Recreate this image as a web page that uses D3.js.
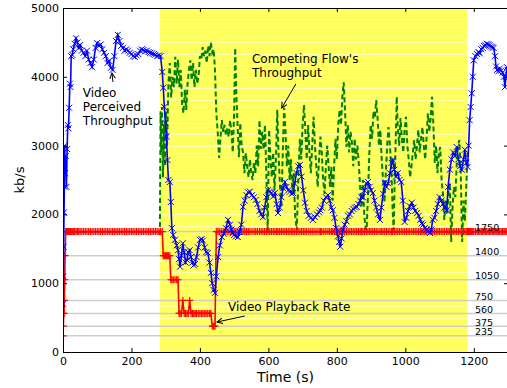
<!DOCTYPE html>
<html>
<head>
<meta charset="utf-8">
<script src="https://cdn.jsdelivr.net/npm/d3@7"></script>
<style>
  body { margin: 0; background: #fff; }
  svg { display: block; font-family: "DejaVu Sans", sans-serif; }
</style>
</head>
<body>
<svg></svg>
<script>
// sample instants of the player log (s)
const sampleTimes = [
  0, 1, 2, 3, 4, 5, 6, 8, 10, 12,
  14, 16, 18, 20, 22, 24, 27, 30, 34, 38,
  42, 46, 50, 55, 60, 65, 70, 75, 80, 85,
  90, 95, 100, 105, 110, 115, 120, 125, 130, 135,
  140, 145, 150, 155, 160, 165, 170, 175, 180, 185,
  190, 195, 200, 205, 210, 215, 220, 225, 230, 235,
  240, 245, 250, 255, 260, 265, 270, 275, 280, 285,
  290, 293, 296, 299, 302, 305, 308, 312, 315, 318,
  322, 327, 332, 336, 339, 342, 346, 350, 354, 358,
  362, 366, 370, 374, 378, 382, 386, 390, 395, 400,
  405, 409, 414, 418, 423, 428, 432, 436, 440, 444,
  448, 453, 458, 464, 470, 476, 482, 488, 492, 496,
  500, 505, 511, 516, 521, 526, 531, 536, 541, 546,
  552, 558, 563, 568, 574, 579, 584, 589, 594, 599,
  604, 609, 614, 619, 624, 628, 633, 638, 643, 648,
  653, 658, 663, 668, 672, 677, 682, 687, 692, 697,
  702, 707, 712, 718, 724, 730, 736, 742, 748, 752,
  756, 762, 768, 774, 779, 784, 788, 793, 798, 803,
  807, 810, 814, 818, 823, 828, 833, 838, 843, 848,
  853, 858, 863, 868, 872, 876, 881, 886, 891, 896,
  900, 905, 910, 915, 920, 926, 930, 935, 940, 945,
  950, 955, 960, 963, 968, 973, 978, 983, 988, 993,
  998, 1003, 1008, 1013, 1019, 1024, 1029, 1034, 1039, 1044,
  1048, 1052, 1057, 1062, 1067, 1072, 1076, 1080, 1085, 1090,
  1095, 1100, 1105, 1110, 1115, 1121, 1125, 1130, 1135, 1140,
  1145, 1150, 1155, 1160, 1165, 1170, 1174, 1178, 1182, 1185,
  1188, 1191, 1194, 1197, 1200, 1205, 1210, 1214, 1218, 1222,
  1226, 1230, 1234, 1238, 1242, 1246, 1250, 1254, 1258, 1262,
  1265, 1268, 1272, 1276, 1280, 1284, 1288, 1291, 1294, 1297,
  1300
];

// throughput seen by the video player (kb/s)
const perceivedKbps = [
  700, 1100, 1530, 2030, 2400, 3000, 2600, 2850, 2400, 2950,
  3300, 3250, 3550, 3900, 3850, 4300, 4320, 4400, 4480, 4560,
  4500, 4420, 4460, 4380, 4350, 4300, 4380, 4250, 4200, 4140,
  4250, 4420, 4490, 4450, 4470, 4400, 4350, 4300, 4200, 4230,
  4130, 4100, 4300, 4520, 4610, 4520, 4450, 4420, 4380, 4400,
  4380, 4350, 4330, 4300, 4290, 4310, 4330, 4380, 4400, 4390,
  4370, 4380, 4360, 4350, 4340, 4330, 4320, 4300, 4310, 4300,
  4070, 3840, 3560, 3330, 3130, 2790, 2500, 2470, 2180, 1800,
  1700, 1630, 1550, 1480, 1350, 1240, 1400, 1580, 1450, 1300,
  1340, 1450, 1480, 1380, 1300, 1260, 1280, 1380, 1520, 1630,
  1640, 1620, 1520, 1450, 1440, 1300, 1150, 1000, 900, 860,
  1100, 1380, 1550, 1670, 1720, 1800, 1920, 1850, 1780, 1730,
  1700, 1680, 1670, 1750, 1850, 2110, 2200, 2280, 2320, 2330,
  2280, 2250, 2210, 2150, 2050, 2000, 1960, 2100, 2250, 2350,
  2330, 2310, 2260, 2310, 2150, 2020, 2100, 2250, 2380, 2470,
  2400, 2350, 2330, 2300, 2310, 2450, 2600, 2700, 2720, 2550,
  2350, 2170, 2050, 1980, 1950, 1920, 1960, 2000, 2030, 2060,
  2100, 2200, 2250, 2280, 2200, 2100, 2060, 1950, 1800, 1680,
  1600, 1530, 1650, 1780, 1850, 1900, 1980, 2000, 2050, 2080,
  2100, 2110, 2150, 2200, 2250, 2250, 2350, 2450, 2470, 2400,
  2350, 2310, 2200, 2100, 2000, 1920, 2100, 2300, 2460, 2400,
  2450, 2600, 2750, 2790, 2650, 2550, 2600, 2500, 2470, 2200,
  1890, 1950, 2050, 2120, 2170, 2100, 2050, 2020, 1980, 1920,
  1870, 1850, 1800, 1780, 1760, 1730, 1780, 1920, 1950, 2050,
  2150, 2250, 2200, 2150, 2100, 2060, 2400, 2650, 2800, 2900,
  2850, 2980, 2800, 2700, 2650, 2800, 2940, 2750, 2690, 3000,
  3370, 3560, 3760, 4000, 4240, 4300, 4330, 4360, 4340, 4400,
  4420, 4450, 4460, 4480, 4470, 4460, 4440, 4430, 4420, 4300,
  4150, 4100, 4080, 4120, 4090, 4060, 4000, 3850, 4000, 4140,
  4100
];

// encoding rate being played (kb/s)
const playbackKbps = [
  235, 375, 560, 560, 750, 1050, 1400, 1750, 1750, 1750,
  1750, 1750, 1750, 1750, 1750, 1750, 1750, 1750, 1750, 1750,
  1750, 1750, 1750, 1750, 1750, 1750, 1750, 1750, 1750, 1750,
  1750, 1750, 1750, 1750, 1750, 1750, 1750, 1750, 1750, 1750,
  1750, 1750, 1750, 1750, 1750, 1750, 1750, 1750, 1750, 1750,
  1750, 1750, 1750, 1750, 1750, 1750, 1750, 1750, 1750, 1750,
  1750, 1750, 1750, 1750, 1750, 1750, 1750, 1750, 1750, 1750,
  1750, 1400, 1400, 1400, 1400, 1400, 1400, 1400, 1050, 1050,
  1050, 1050, 1050, 1050, 560, 560, 560, 750, 560, 560,
  560, 560, 750, 560, 560, 560, 560, 560, 560, 560,
  560, 560, 560, 560, 560, 560, 560, 375, 375, 375,
  1750, 1750, 1750, 1750, 1750, 1750, 1750, 1750, 1750, 1750,
  1750, 1750, 1750, 1750, 1750, 1750, 1750, 1750, 1750, 1750,
  1750, 1750, 1750, 1750, 1750, 1750, 1750, 1750, 1750, 1750,
  1750, 1750, 1750, 1750, 1750, 1750, 1750, 1750, 1750, 1750,
  1750, 1750, 1750, 1750, 1750, 1750, 1750, 1750, 1750, 1750,
  1750, 1750, 1750, 1750, 1750, 1750, 1750, 1750, 1750, 1750,
  1750, 1750, 1750, 1750, 1750, 1750, 1750, 1750, 1750, 1750,
  1750, 1750, 1750, 1750, 1750, 1750, 1750, 1750, 1750, 1750,
  1750, 1750, 1750, 1750, 1750, 1750, 1750, 1750, 1750, 1750,
  1750, 1750, 1750, 1750, 1750, 1750, 1750, 1750, 1750, 1750,
  1750, 1750, 1750, 1750, 1750, 1750, 1750, 1750, 1750, 1750,
  1750, 1750, 1750, 1750, 1750, 1750, 1750, 1750, 1750, 1750,
  1750, 1750, 1750, 1750, 1750, 1750, 1750, 1750, 1750, 1750,
  1750, 1750, 1750, 1750, 1750, 1750, 1750, 1750, 1750, 1750,
  1750, 1750, 1750, 1750, 1750, 1750, 1750, 1750, 1750, 1750,
  1750, 1750, 1750, 1750, 1750, 1750, 1750, 1750, 1750, 1750,
  1750, 1750, 1750, 1750, 1750, 1750, 1750, 1750, 1750, 1750,
  1750, 1750, 1750, 1750, 1750, 1750, 1750, 1750, 1750, 1750,
  1750
];

// competing TCP flow, only active while it runs
const flowTimes = [
  283, 285, 287, 289, 292, 295, 298, 301, 304, 308,
  312, 316, 320, 324, 328, 332, 336, 340, 344, 348,
  352, 356, 360, 364, 368, 372, 376, 380, 384, 388,
  392, 396, 400, 404, 408, 412, 416, 420, 424, 428,
  432, 436, 440, 444, 448, 452, 456, 460, 464, 468,
  472, 476, 480, 484, 488, 492, 496, 500, 503, 506,
  510, 514, 518, 522, 526, 530, 534, 538, 542, 546,
  550, 554, 558, 562, 566, 570, 574, 578, 582, 586,
  590, 594, 598, 602, 606, 610, 614, 618, 622, 626,
  630, 634, 638, 642, 646, 650, 654, 658, 662, 666,
  670, 674, 678, 683, 688, 692, 696, 700, 704, 708,
  712, 716, 720, 724, 728, 732, 736, 740, 744, 748,
  752, 756, 760, 764, 768, 772, 776, 780, 784, 788,
  792, 796, 800, 804, 808, 812, 816, 820, 824, 828,
  832, 836, 840, 844, 848, 852, 856, 860, 864, 868,
  872, 876, 880, 884, 887, 891, 895, 899, 903, 907,
  911, 915, 919, 923, 927, 931, 935, 939, 943, 947,
  951, 955, 959, 963, 966, 969, 972, 975, 978, 982,
  986, 990, 994, 998, 1002, 1006, 1010, 1014, 1018, 1022,
  1026, 1030, 1034, 1038, 1042, 1046, 1050, 1054, 1058, 1062,
  1066, 1070, 1074, 1078, 1082, 1086, 1090, 1094, 1098, 1102,
  1106, 1110, 1114, 1118, 1122, 1126, 1130, 1134, 1138, 1142,
  1146, 1150, 1154, 1158, 1162, 1166, 1170, 1174, 1178, 1182
];

const flowKbps = [
  1700, 3500, 2900, 3560, 2540, 3300, 2700, 3500, 3000, 3900,
  4200, 3700, 4000, 3850, 4290, 3900, 4250, 3850, 4100, 3600,
  3470, 3810, 3520, 3900, 4100, 4240, 3950, 4200, 3850, 4100,
  3900, 4000, 4300, 4250, 4430, 4300, 4380, 4200, 4450, 4300,
  4500, 4350, 4400, 4100, 3470, 3200, 2820, 3100, 3370, 3200,
  3300, 3150, 3250, 3130, 3370, 3200, 2900, 3500, 4420, 3800,
  3300, 2830, 3330, 3000, 2900, 2600, 2890, 2700, 2540, 2800,
  2600, 2500, 2750, 2600, 3000, 2700, 3370, 2950, 3200, 2940,
  3300, 2600, 1760, 3230, 2830, 2540, 2900, 2350, 2800, 3520,
  2830, 2400, 2100, 2900, 3550, 3200, 2700, 3000, 2500, 2800,
  2300, 2600, 2000, 1770, 2600, 3100, 2800, 3300, 3590, 3200,
  2800, 3300, 2900, 2600, 3000, 3420, 3000, 2700, 2400, 2800,
  3130, 2900, 2500, 2300, 2700, 3000, 2700, 2400, 2690, 2200,
  2700, 3100, 2800, 3300, 3520, 3300, 3700, 3920, 3500, 2980,
  3300, 2900, 3200, 3040, 2700, 3100, 2800, 3000, 2750, 2400,
  2100, 2500, 2000, 1800, 1770, 2300, 2900, 3300, 3100, 3500,
  3400, 3660, 3400, 3000, 3230, 2800, 2500, 2170, 2600, 3000,
  3270, 3000, 2700, 2060, 1770, 2500, 3100, 3710, 3270, 3000,
  3400, 3100, 2900, 3230, 3420, 3000, 2800, 2540, 2700, 2900,
  3080, 2800, 3000, 3230, 2900, 3100, 3270, 3000, 2800, 3100,
  3470, 3200, 3400, 3710, 3300, 2750, 3000, 2600, 2900, 2980,
  2500, 2300, 1920, 2200, 2000, 2300, 2460, 1600, 2110, 2400,
  2250, 2700, 3000, 3080, 2600, 1600, 2200, 1900, 2400, 2900
];

// period during which the competing flow is running (s)
const competeStart = 283;
const competeEnd = 1182;

// encoding rates offered by the service (kb/s)
const bitrateLevels = [235, 375, 560, 750, 1050, 1400, 1750];

const timeTicks = [0, 200, 400, 600, 800, 1000, 1200];
const kbpsTicks = [0, 1000, 2000, 3000, 4000, 5000];

// canvas and plot frame
const w = 507;
const h = 388;
const plotLeft = 63, plotRight = 508, plotTop = 8, plotBottom = 352;

const svg = d3.select("svg")
              .attr("width", w)
              .attr("height", h);

const x = d3.scaleLinear().domain([0, 1300]).range([plotLeft, plotRight]);
const y = d3.scaleLinear().domain([0, 5000]).range([plotBottom, plotTop]);

const defs = svg.append("defs");
defs.append("clipPath")
    .attr("id", "plot-clip")
    .append("rect")
    .attr("x", plotLeft).attr("y", plotTop)
    .attr("width", plotRight - plotLeft).attr("height", plotBottom - plotTop);

defs.append("marker")
    .attr("id", "arrow")
    .attr("viewBox", "-7 -4 8 8")
    .attr("refX", 0).attr("refY", 0)
    .attr("markerWidth", 8).attr("markerHeight", 8)
    .attr("markerUnits", "userSpaceOnUse")
    .attr("orient", "auto")
    .append("path")
    .attr("d", "M-5.5,-2.8L0,0L-5.5,2.8")
    .attr("fill", "none")
    .attr("stroke", "#000")
    .attr("stroke-width", 1);

const plot = svg.append("g").attr("clip-path", "url(#plot-clip)");

// shaded area while the competing flow is on
plot.append("rect")
    .attr("x", x(competeStart))
    .attr("y", plotTop)
    .attr("width", x(competeEnd) - x(competeStart))
    .attr("height", plotBottom - plotTop)
    .attr("fill", "#ffff5e");

// light banding inside the shaded area
plot.append("g")
    .selectAll("line")
    .data(d3.range(1, 30).map(i => i * 5000 / 30))
    .join("line")
    .attr("x1", x(competeStart))
    .attr("x2", x(competeEnd))
    .attr("y1", d => Math.round(y(d)) + 0.5)
    .attr("y2", d => Math.round(y(d)) + 0.5)
    .attr("stroke", "#ffffb4")
    .attr("stroke-width", 1);

// horizontal guides at each encoding rate
plot.append("g")
    .selectAll("line")
    .data(bitrateLevels)
    .join("line")
    .attr("x1", plotLeft)
    .attr("x2", plotRight)
    .attr("y1", d => y(d))
    .attr("y2", d => y(d))
    .attr("stroke", "#cdcdcd")
    .attr("stroke-width", 1.5);

// competing flow throughput
const flow = d3.zip(flowTimes, flowKbps);
plot.append("path")
    .datum(flow)
    .attr("fill", "none")
    .attr("stroke", "#008000")
    .attr("stroke-width", 2)
    .attr("stroke-dasharray", "5,3")
    .attr("d", d3.line().x(d => x(d[0])).y(d => y(d[1])));

// playback rate
const playback = d3.zip(sampleTimes, playbackKbps);
plot.append("path")
    .datum(playback)
    .attr("fill", "none")
    .attr("stroke", "#ff0000")
    .attr("stroke-width", 1.6)
    .attr("d", d3.line().x(d => x(d[0])).y(d => y(d[1])));

plot.append("g")
    .selectAll("path")
    .data(playback)
    .join("path")
    .attr("transform", d => `translate(${x(d[0])},${y(d[1])})`)
    .attr("d", "M-3.5,0H3.5M0,-3.5V3.5")
    .attr("stroke", "#ff0000")
    .attr("stroke-width", 1.2);

// perceived throughput
const perceived = d3.zip(sampleTimes, perceivedKbps);
plot.append("path")
    .datum(perceived)
    .attr("fill", "none")
    .attr("stroke", "#0000ff")
    .attr("stroke-width", 1.6)
    .attr("d", d3.line().x(d => x(d[0])).y(d => y(d[1])));

plot.append("g")
    .selectAll("path")
    .data(perceived)
    .join("path")
    .attr("transform", d => `translate(${x(d[0])},${y(d[1])})`)
    .attr("d", "M-3,-3L3,3M-3,3L3,-3")
    .attr("stroke", "#0000ff")
    .attr("stroke-width", 1);

// rate labels on the right
svg.append("g")
   .selectAll("text")
   .data(bitrateLevels)
   .join("text")
   .attr("x", 475)
   .attr("y", d => y(d) - 0.5)
   .attr("font-size", 9.5)
   .attr("fill", "#000")
   .text(d => d);

// axes, ticks pointing inwards
function styleAxis(g) {
    g.attr("font-family", "'DejaVu Sans', sans-serif")
     .attr("font-size", 11);
    g.selectAll(".domain").attr("stroke", "#000");
    g.selectAll(".tick line").attr("stroke", "#000");
}

const plain = d3.format("d");

svg.append("g")
   .attr("transform", `translate(0,${plotBottom})`)
   .call(d3.axisBottom(x).tickValues(timeTicks).tickFormat(plain)
           .tickSizeInner(-4).tickSizeOuter(0).tickPadding(5))
   .call(styleAxis);

svg.append("g")
   .attr("transform", `translate(0,${plotTop})`)
   .call(d3.axisTop(x).tickValues(timeTicks).tickSizeInner(-4).tickSizeOuter(0).tickFormat(() => ""))
   .call(styleAxis);

svg.append("g")
   .attr("transform", `translate(${plotLeft},0)`)
   .call(d3.axisLeft(y).tickValues(kbpsTicks).tickFormat(plain)
           .tickSizeInner(-4).tickSizeOuter(0).tickPadding(4))
   .call(styleAxis);

svg.append("g")
   .attr("transform", `translate(${plotRight},0)`)
   .call(d3.axisRight(y).tickValues(kbpsTicks).tickSizeInner(-4).tickSizeOuter(0).tickFormat(() => ""))
   .call(styleAxis);

// axis titles
svg.append("text")
   .attr("x", (plotLeft + plotRight) / 2)
   .attr("y", 382)
   .attr("text-anchor", "middle")
   .attr("font-size", 14)
   .text("Time (s)");

svg.append("text")
   .attr("transform", `translate(24,${(plotTop + plotBottom) / 2}) rotate(-90)`)
   .attr("text-anchor", "middle")
   .attr("font-size", 13)
   .text("kb/s");

// annotations: text anchor, arrow tail and arrow tip in data units
const notes = [
    {lines: ["Video", "Perceived", "Throughput"], at: [58, 3706], tail: [146, 3924], tip: [143, 4055]},
    {lines: ["Competing Flow's", "Throughput"], at: [552, 4200], tail: [680, 3895], tip: [639, 3547]},
    {lines: ["Video Playback Rate"], at: [482, 596], tail: [531, 523], tip: [450, 436]}
];

notes.forEach(n => {
    const t = svg.append("text")
                 .attr("x", x(n.at[0]))
                 .attr("y", y(n.at[1]))
                 .attr("font-size", 12)
                 .attr("fill", "#000");
    n.lines.forEach((line, i) => {
        t.append("tspan")
         .attr("x", x(n.at[0]))
         .attr("dy", i === 0 ? 0 : 14)
         .text(line);
    });
    svg.append("line")
       .attr("x1", x(n.tail[0])).attr("y1", y(n.tail[1]))
       .attr("x2", x(n.tip[0])).attr("y2", y(n.tip[1]))
       .attr("stroke", "#000")
       .attr("stroke-width", 1)
       .attr("marker-end", "url(#arrow)");
});
</script>
</body>
</html>
